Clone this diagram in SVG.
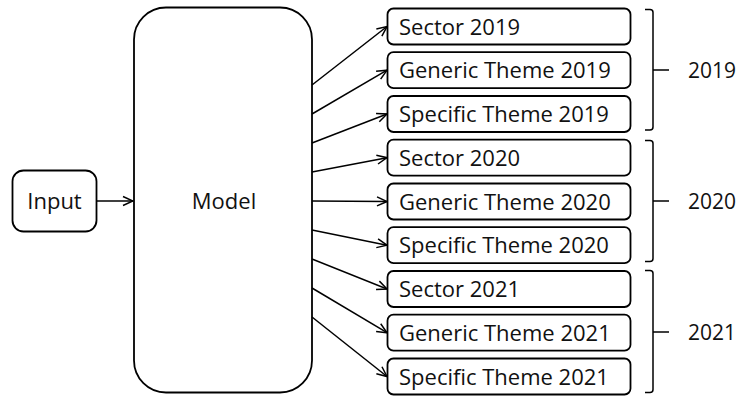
<svg xmlns="http://www.w3.org/2000/svg" width="741" height="396" viewBox="0 0 741 396">
<defs>
<marker id="ah" viewBox="0 0 12 12" refX="11" refY="6" markerWidth="12" markerHeight="12" markerUnits="userSpaceOnUse" orient="auto">
<path d="M1,1.5 L11,6 L1,10.5" fill="none" stroke="#000" stroke-width="1.5"/>
</marker>
<style>
.box{fill:#fff;stroke:#000;stroke-width:1.8}
.t{font-family:"Open Sans","Liberation Sans",sans-serif;font-size:22px;fill:#111}
.y{font-size:21px}
.c{stroke:#000;stroke-width:1.5;fill:none}
.br{stroke:#000;stroke-width:1.5;fill:none}
</style>
</defs>
<rect width="741" height="396" fill="#fff"/>
<g id="input"><rect class="box" x="12.5" y="170.5" width="84" height="61" rx="11"/><text class="t" x="54.5" y="209" text-anchor="middle">Input</text></g>
<g id="model"><rect class="box" x="134" y="7.5" width="178" height="385" rx="32"/><text class="t" x="224" y="209" text-anchor="middle">Model</text></g>
<g id="s2019"><rect class="box" x="387.5" y="8.5" width="243" height="36" rx="6"/><text class="t" x="399" y="34.5">Sector 2019</text></g>
<g id="g2019"><rect class="box" x="387.5" y="52.2" width="243" height="36" rx="6"/><text class="t" x="399" y="78.2">Generic Theme 2019</text></g>
<g id="p2019"><rect class="box" x="387.5" y="96" width="243" height="36" rx="6"/><text class="t" x="399" y="122">Specific Theme 2019</text></g>
<g id="s2020"><rect class="box" x="387.5" y="139.7" width="243" height="36" rx="6"/><text class="t" x="399" y="165.7">Sector 2020</text></g>
<g id="g2020"><rect class="box" x="387.5" y="183.5" width="243" height="36" rx="6"/><text class="t" x="399" y="209.5">Generic Theme 2020</text></g>
<g id="p2020"><rect class="box" x="387.5" y="227.2" width="243" height="36" rx="6"/><text class="t" x="399" y="253.2">Specific Theme 2020</text></g>
<g id="s2021"><rect class="box" x="387.5" y="271" width="243" height="36" rx="6"/><text class="t" x="399" y="297">Sector 2021</text></g>
<g id="g2021"><rect class="box" x="387.5" y="314.7" width="243" height="36" rx="6"/><text class="t" x="399" y="340.7">Generic Theme 2021</text></g>
<g id="p2021"><rect class="box" x="387.5" y="358.5" width="243" height="36" rx="6"/><text class="t" x="399" y="384.5">Specific Theme 2021</text></g>
<g id="y2019"><path class="br" d="M645,9.5 H650 Q653,9.5 653,12.5 V127 Q653,130 650,130 H645 M653,70 H669"/><text class="t y" x="688" y="78">2019</text></g>
<g id="y2020"><path class="br" d="M645,140.5 H650 Q653,140.5 653,143.5 V258.5 Q653,261.5 650,261.5 H645 M653,201 H669"/><text class="t y" x="688" y="209">2020</text></g>
<g id="y2021"><path class="br" d="M645,270.5 H650 Q653,270.5 653,273.5 V389.5 Q653,392.5 650,392.5 H645 M653,332 H669"/><text class="t y" x="688" y="340">2021</text></g>
<g id="connectors">
<line class="c" x1="97" y1="201" x2="133" y2="201" marker-end="url(#ah)"/>
<line class="c" x1="312" y1="85" x2="387" y2="26.5" marker-end="url(#ah)"/>
<line class="c" x1="312" y1="114" x2="387" y2="70.2" marker-end="url(#ah)"/>
<line class="c" x1="312" y1="143" x2="387" y2="114" marker-end="url(#ah)"/>
<line class="c" x1="312" y1="172" x2="387" y2="157.7" marker-end="url(#ah)"/>
<line class="c" x1="312" y1="201" x2="387" y2="201.5" marker-end="url(#ah)"/>
<line class="c" x1="312" y1="230" x2="387" y2="245.2" marker-end="url(#ah)"/>
<line class="c" x1="312" y1="259" x2="387" y2="289" marker-end="url(#ah)"/>
<line class="c" x1="312" y1="288" x2="387" y2="332.7" marker-end="url(#ah)"/>
<line class="c" x1="312" y1="317" x2="387" y2="376.5" marker-end="url(#ah)"/>
</g>
</svg>
